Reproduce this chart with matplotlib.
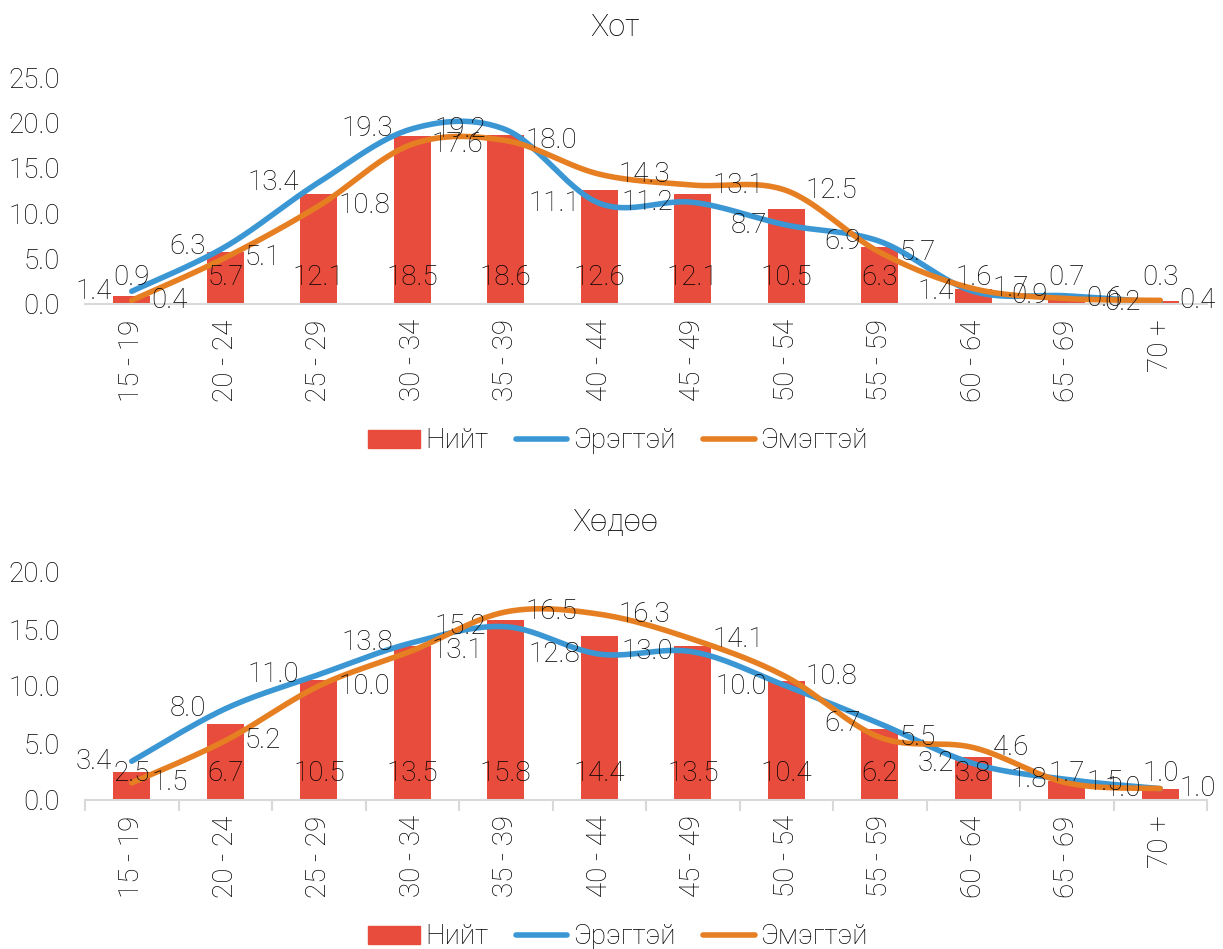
import numpy as np
import matplotlib.pyplot as plt
from matplotlib.patches import Patch
from matplotlib.lines import Line2D

plt.rcParams['font.family'] = ['Roboto', 'DejaVu Sans']

# ----- Data -----
ages = ["15 - 19", "20 - 24", "25 - 29", "30 - 34", "35 - 39", "40 - 44",
        "45 - 49", "50 - 54", "55 - 59", "60 - 64", "65 - 69", "70 +"]

city_total = [0.9, 5.7, 12.1, 18.5, 18.6, 12.6, 12.1, 10.5, 6.3, 1.6, 0.7, 0.3]
city_male = [1.4, 6.3, 13.4, 19.3, 19.2, 11.1, 11.2, 8.7, 6.9, 1.4, 0.9, 0.2]
city_female = [0.4, 5.1, 10.8, 17.6, 18.0, 14.3, 13.1, 12.5, 5.7, 1.7, 0.6, 0.4]

rural_total = [2.5, 6.7, 10.5, 13.5, 15.8, 14.4, 13.5, 10.4, 6.2, 3.8, 1.7, 1.0]
rural_male = [3.4, 8.0, 11.0, 13.8, 15.2, 12.8, 13.0, 10.0, 6.7, 3.2, 1.8, 1.0]
rural_female = [1.5, 5.2, 10.0, 13.1, 16.5, 16.3, 14.1, 10.8, 5.5, 4.6, 1.5, 1.0]

RED = "#E74C3C"
BLUE = "#3A97D4"
ORANGE = "#E67E22"
GRAY = "#D9D9D9"
FS = 20
LW = 4.0


def smooth(xs, ys, n=30):
    # Excel-style smoothed line: cubic Bezier with Catmull-Rom control points
    xs = np.asarray(xs, float)
    ys = np.asarray(ys, float)
    P = np.column_stack([xs, ys])
    P = np.vstack([P[0], P, P[-1]])
    out = []
    t = np.linspace(0, 1, n)[:, None]
    for i in range(1, len(P) - 2):
        p0, p1, p2, p3 = P[i - 1], P[i], P[i + 1], P[i + 2]
        c1 = p1 + (p2 - p0) / 6
        c2 = p2 - (p3 - p1) / 6
        seg = ((1 - t) ** 3) * p1 + 3 * ((1 - t) ** 2) * t * c1 \
            + 3 * (1 - t) * t ** 2 * c2 + t ** 3 * p2
        out.append(seg)
    out = np.vstack(out)
    return out[:, 0], out[:, 1]


def draw(ax, total, male, female, ymax, boundary_ticks):
    x = np.arange(len(ages))
    ax.bar(x, total, width=0.4, color=RED, zorder=1)
    sx, sy = smooth(x, male)
    ax.plot(sx, sy, color=BLUE, lw=LW, solid_capstyle='round', zorder=2)
    sx, sy = smooth(x, female)
    ax.plot(sx, sy, color=ORANGE, lw=LW, solid_capstyle='round', zorder=3)

    for i in range(len(ages)):
        ax.annotate(f"{total[i]:.1f}", (x[i], 0), xytext=(0, 19),
                    textcoords='offset points', ha='center', va='center',
                    fontsize=FS, fontweight='light', zorder=5)
        ax.annotate(f"{male[i]:.1f}", (x[i], male[i]), xytext=(-14, 0),
                    textcoords='offset points', ha='right', va='center',
                    fontsize=FS, fontweight='light', zorder=5)
        ax.annotate(f"{female[i]:.1f}", (x[i], female[i]), xytext=(14, 0),
                    textcoords='offset points', ha='left', va='center',
                    fontsize=FS, fontweight='light', zorder=5)

    ax.set_xlim(-0.5, len(ages) - 0.5)
    ax.set_ylim(0, ymax)
    ax.set_yticks(np.arange(0, ymax + 0.1, 5))
    ax.set_yticklabels([f"{v:.1f}" for v in np.arange(0, ymax + 0.1, 5)])
    ax.set_xticks(x)
    ax.set_xticklabels(ages, rotation=90)
    ax.tick_params(axis='y', length=0, pad=18, labelsize=FS)
    ax.tick_params(axis='x', which='major', length=0, pad=11, labelsize=FS)
    for lab in ax.get_xticklabels() + ax.get_yticklabels():
        lab.set_fontweight('light')
    if boundary_ticks:
        ax.set_xticks(np.arange(-0.5, len(ages)), minor=True)
        ax.tick_params(axis='x', which='minor', length=8, width=1.5, color=GRAY)
    for s in ['top', 'right', 'left']:
        ax.spines[s].set_visible(False)
    ax.spines['bottom'].set_color(GRAY)
    ax.spines['bottom'].set_linewidth(1.5)
    ax.spines['bottom'].set_zorder(4)


fig = plt.figure(figsize=(12.23, 9.49), dpi=100)
ax1 = fig.add_axes([85 / 1223, 1 - 304 / 949, 1122 / 1223, 227 / 949])
ax2 = fig.add_axes([85 / 1223, 1 - 800 / 949, 1122 / 1223, 228 / 949])

draw(ax1, city_total, city_male, city_female, 25, False)
draw(ax2, rural_total, rural_male, rural_female, 20, True)

fig.text(615 / 1223, 1 - 27 / 949, "Хот", ha='center', va='center',
         fontsize=22, fontweight='light')
fig.text(615 / 1223, 1 - 522 / 949, "Хөдөө", ha='center', va='center',
         fontsize=22, fontweight='light')

handles = [Patch(color=RED), Line2D([], [], color=BLUE, lw=LW, solid_capstyle='round'),
           Line2D([], [], color=ORANGE, lw=LW, solid_capstyle='round')]
names = ["Нийт", "Эрэгтэй", "Эмэгтэй"]
for ypix in (441, 937):
    leg = fig.legend(handles, names, loc='center', bbox_to_anchor=(618 / 1223, 1 - ypix / 949),
                     ncol=3, frameon=False, fontsize=FS, handlelength=1.85,
                     handleheight=0.6, handletextpad=0.2, columnspacing=1.0)
    for t in leg.get_texts():
        t.set_fontweight('light')

fig.savefig("out.png", dpi=100)
